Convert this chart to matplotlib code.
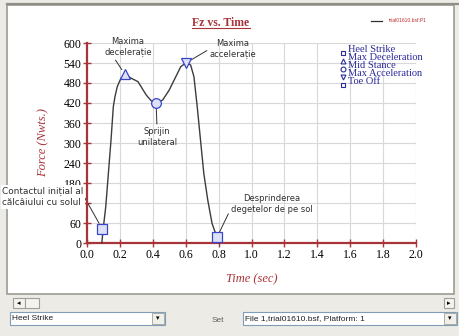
import matplotlib
matplotlib.use("Agg")
import matplotlib.pyplot as plt
from matplotlib.patches import Rectangle
from matplotlib.lines import Line2D

# ---- Fz vs. Time (trial01610.bsf, platform 1) ----
TIME = [0.09, 0.10, 0.114, 0.13, 0.146, 0.16, 0.17, 0.184, 0.206, 0.23, 0.27, 0.31,
        0.36, 0.39, 0.42, 0.46, 0.50, 0.54, 0.57, 0.604, 0.63, 0.65, 0.67, 0.69,
        0.71, 0.734, 0.76, 0.79, 0.80]
FORCE = [0, 49, 109, 209, 309, 409, 439, 469, 494, 506, 494, 484,
         444, 427, 419, 429, 459, 499, 529, 541, 534, 499, 409, 309,
         209, 129, 59, 17, 0]

EVENT_NAMES = ["Heel Strike", "Max Deceleration", "Mid Stance", "Max Acceleration", "Toe Off"]
EVENT_TIME = [0.094, 0.23, 0.42, 0.604, 0.79]
EVENT_FORCE = [41, 506, 419, 541, 17]
EVENT_MARK = ["s", "^", "o", "v", "s"]

X_TICKS = [0.0, 0.2, 0.4, 0.6, 0.8, 1.0, 1.2, 1.4, 1.6, 1.8, 2.0]
Y_TICKS = list(range(0, 601, 60))

W, H = 459, 336
RED = "#a8343a"
BLUE = "#3a44c8"
NAVY = "#2a2a9a"
SERIF = "Liberation Serif"
SANS = "DejaVu Sans"


def P(x, y):
    # screen pixel -> figure fraction
    return x / W, 1 - y / H


fig = plt.figure(figsize=(W / 100, H / 100), dpi=100)
fig.patch.set_facecolor("#ecebe5")

# window chrome
fig.patches.append(Rectangle(P(7, 294), (454 - 7) / W, (294 - 5) / H, transform=fig.transFigure,
                             facecolor="white", edgecolor="#9c9c94", lw=1.2, zorder=-5))
fig.add_artist(Line2D([P(7, 0)[0], P(459, 0)[0]], [P(0, 4)[1]] * 2, transform=fig.transFigure,
                      color="#8e8e86", lw=1.6, zorder=-4))
fig.patches.append(Rectangle(P(13, 308), 12 / W, 10 / H, transform=fig.transFigure,
                             facecolor="#f4f3ee", edgecolor="#a0a098", lw=0.8))
fig.patches.append(Rectangle(P(25, 308), 14 / W, 10 / H, transform=fig.transFigure,
                             facecolor="#f4f3ee", edgecolor="#a0a098", lw=0.8))
fig.text(*P(19, 303), "◂", fontsize=5, ha="center", va="center", color="black")
fig.patches.append(Rectangle(P(444, 308), 10 / W, 10 / H, transform=fig.transFigure,
                             facecolor="#f4f3ee", edgecolor="#a0a098", lw=0.8))
fig.text(*P(449, 303), "▸", fontsize=5, ha="center", va="center", color="black")

for x0, x1, label in [(10, 165, "Heel Strike"), (243, 457, "File 1,trial01610.bsf, Platform: 1")]:
    fig.patches.append(Rectangle(P(x0, 325), (x1 - x0) / W, 13 / H, transform=fig.transFigure,
                                 facecolor="white", edgecolor="#7f9db9", lw=0.8))
    fig.patches.append(Rectangle(P(x1 - 13, 324), 12 / W, 11 / H, transform=fig.transFigure,
                                 facecolor="#f0efe8", edgecolor="#a0a098", lw=0.6))
    fig.text(*P(x1 - 7, 318.5), "▾", fontsize=5, ha="center", va="center", color="black")
    fig.text(*P(x0 + 2, 318.5), label, fontsize=6, family="Liberation Sans", ha="left",
             va="center", color="#202020")
fig.text(*P(218, 320), "Set", fontsize=6, family="Liberation Sans", ha="center", va="center",
         color="#606060")

# plot area
ax = fig.add_axes([87 / W, (H - 243) / H, (416 - 87) / W, (243 - 43) / H])
ax.set_facecolor("none")
ax.set_xlim(0, 2.0)
ax.set_ylim(0, 600)
ax.set_xticks(X_TICKS)
ax.set_yticks(Y_TICKS)
ax.set_xticklabels([f"{v:.1f}" for v in X_TICKS])
ax.set_yticklabels([str(v) for v in Y_TICKS])
ax.grid(True, color="#d8d8d8", lw=0.8)
ax.set_axisbelow(True)
for s in ["top", "right"]:
    ax.spines[s].set_visible(False)
for s in ["left", "bottom"]:
    ax.spines[s].set_color(RED)
    ax.spines[s].set_linewidth(1.6)
    ax.spines[s].set_zorder(3)
ax.tick_params(direction="inout", length=6, width=1, color=RED, labelsize=8.5, pad=1)
for lab in ax.get_xticklabels() + ax.get_yticklabels():
    lab.set_family(SERIF)

ax.plot(TIME, FORCE, color="#3c3c3c", lw=1, zorder=4, clip_on=False)
for t, f, m in zip(EVENT_TIME, EVENT_FORCE, EVENT_MARK):
    ax.plot(t, f, marker=m, ms=7, mfc="#dde1f8", mec=BLUE, mew=0.9, zorder=5, clip_on=False)

ax.set_xlabel("Time (sec)", family=SERIF, style="italic", color=RED, fontsize=9, labelpad=9)
ax.set_ylabel("Force (Nwts.)", family=SERIF, style="italic", color=RED, fontsize=9, labelpad=10)

# annotations
ann = dict(fontsize=6, family=SANS, color="#303030", linespacing=1.35)
leader = dict(arrowstyle="-", color="#303030", lw=0.7)
ax.annotate("Maxima\ndecelerație", xy=(0.23, 506), xytext=P(128, 47), textcoords="figure fraction",
            ha="center", va="center", arrowprops=dict(leader, shrinkA=0, shrinkB=4,
                                                     relpos=(0.2, 0.0)), **ann)
ax.annotate("Maxima\naccelerație", xy=(0.604, 541), xytext=P(233, 49), textcoords="figure fraction",
            ha="center", va="center", arrowprops=dict(leader, shrinkA=0, shrinkB=4,
                                                     relpos=(0.0, 0.5)), **ann)
ax.annotate("Sprijin\nunilateral", xy=(0.42, 419), xytext=P(157, 137), textcoords="figure fraction",
            ha="center", va="center", arrowprops=dict(leader, shrinkA=0, shrinkB=4,
                                                     relpos=(0.5, 1.0)), **ann)
ax.annotate("Contactul inițial al\ncălcâiului cu solul", xy=(0.094, 41), xytext=P(2, 197),
            textcoords="figure fraction", ha="left", va="center",
            bbox=dict(boxstyle="square,pad=0.15", fc="white", ec="none"),
            arrowprops=dict(leader, shrinkA=0, shrinkB=5, relpos=(0.97, 0.8)),
            **dict(ann, fontsize=6.4))
ax.annotate("Desprinderea\ndegetelor de pe sol", xy=(0.79, 17), xytext=P(272, 204),
            textcoords="figure fraction", ha="center", va="center",
            arrowprops=dict(leader, shrinkA=0, shrinkB=4, relpos=(0.0, 0.3)), **ann)

# title, underlined
title = fig.text(*P(221, 23), "Fz vs. Time", family=SERIF, weight="bold", fontsize=8.5,
                 color=RED, ha="center", va="center")
fig.canvas.draw()
bb = title.get_window_extent(fig.canvas.get_renderer()).transformed(fig.transFigure.inverted())
fig.add_artist(Line2D([bb.x0, bb.x1], [bb.y0 + 0.004, bb.y0 + 0.004], transform=fig.transFigure,
                      color=RED, lw=0.8))

# series key (top right)
fig.add_artist(Line2D([P(371, 0)[0], P(382, 0)[0]], [P(0, 21)[1]] * 2, transform=fig.transFigure,
                      color="#303030", lw=0.9))
fig.text(*P(389, 21), "trial01610.bsf:P1", fontsize=3.6, family="Liberation Sans",
         color="#c03030", ha="left", va="center")

# event key
for i, (name, m) in enumerate(zip(EVENT_NAMES, EVENT_MARK)):
    y = 50 + i * 8
    fig.text(*P(348, y), name, family=SERIF, fontsize=7.5, color=NAVY, ha="left", va="center")
    fig.add_artist(Line2D([P(343, 0)[0]], [P(0, y + 3)[1]], transform=fig.transFigure,
                          marker=m, ms=3.5, mfc="white", mec=NAVY, mew=0.8, ls="none"))

fig.savefig("out.png", dpi=100, facecolor=fig.get_facecolor())
